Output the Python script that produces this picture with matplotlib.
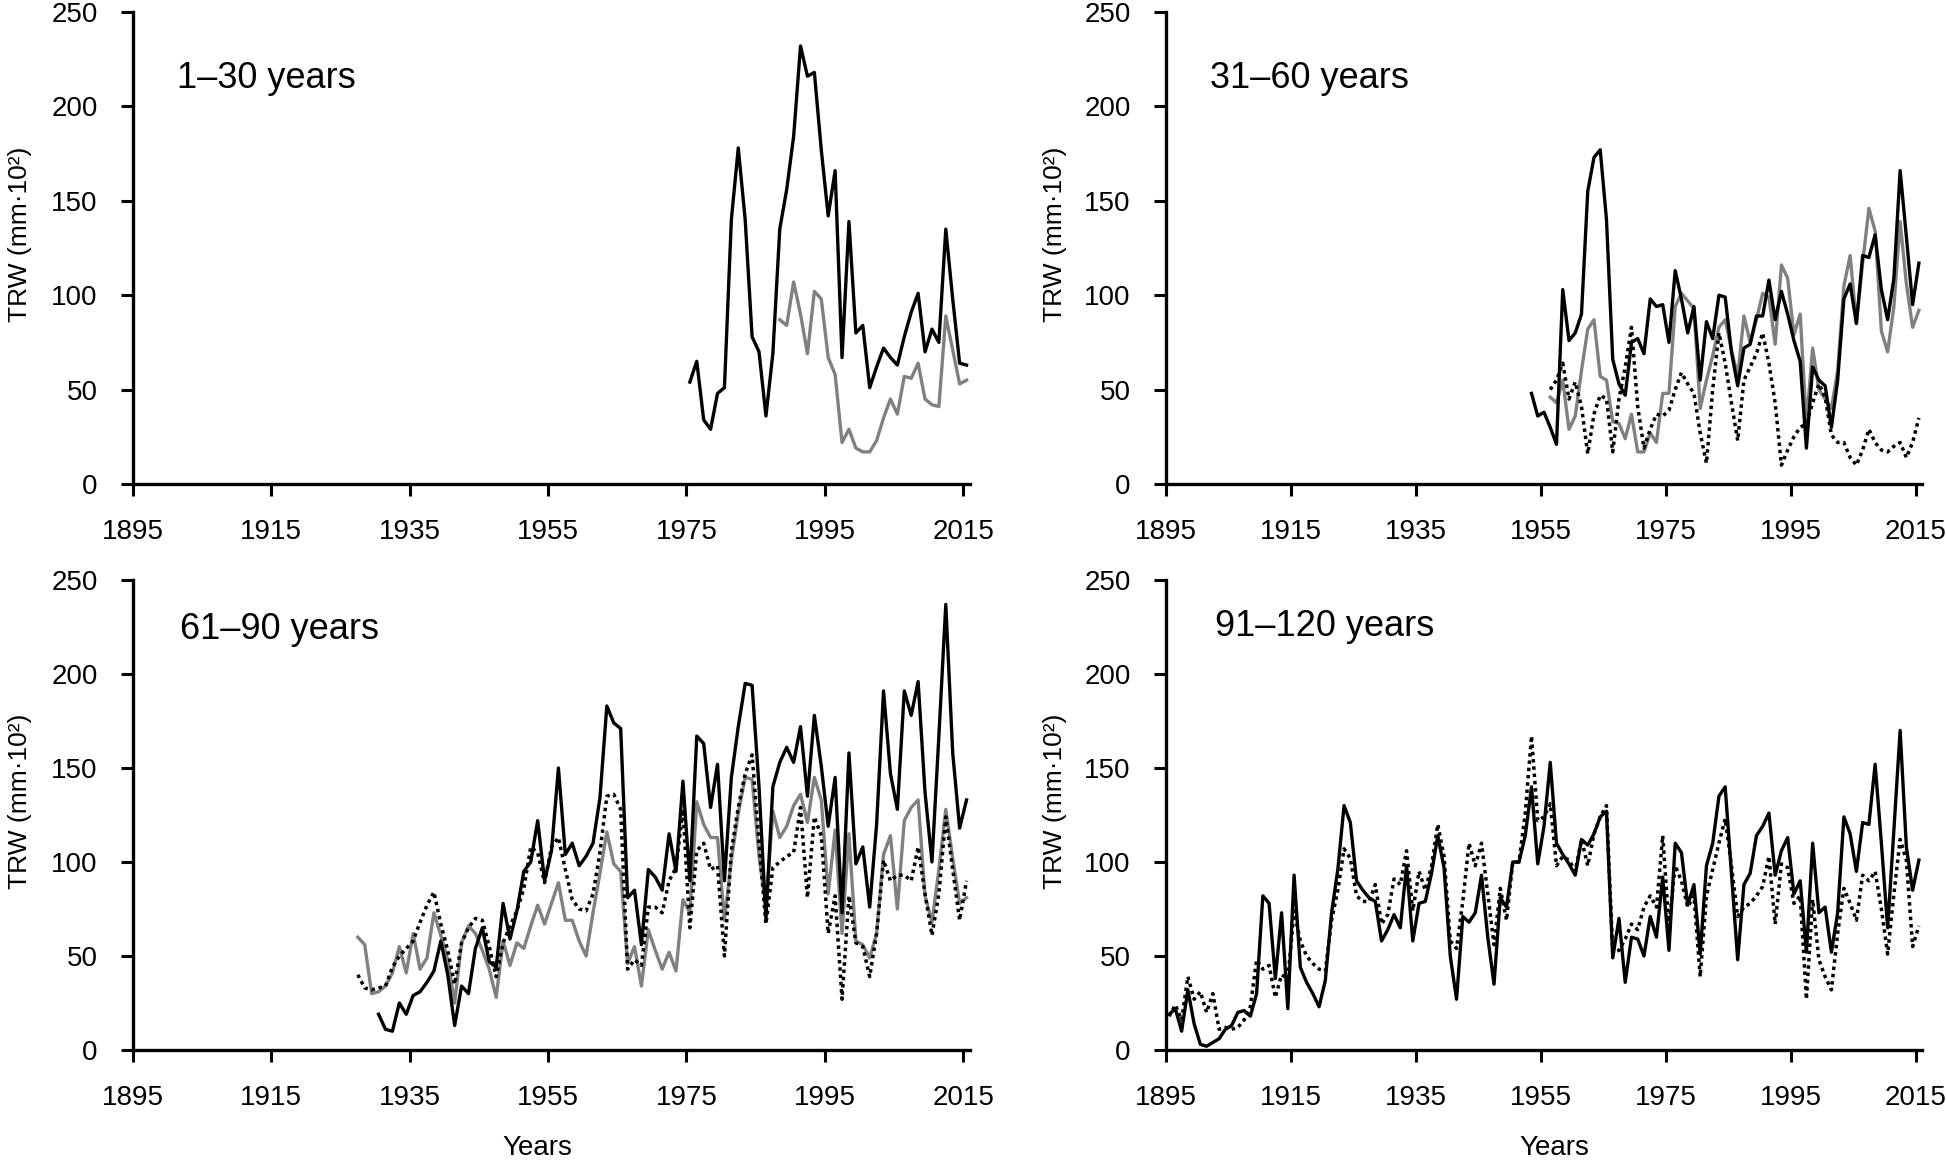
import numpy as np
import matplotlib
matplotlib.use("Agg")
import matplotlib.pyplot as plt

plt.rcParams['font.family'] = ['Liberation Sans', 'DejaVu Sans']

x_ticks = [1895, 1915, 1935, 1955, 1975, 1995, 2015]
y_ticks = [0, 50, 100, 150, 200, 250]
panel_labels = ["1–30 years", "31–60 years", "61–90 years", "91–120 years"]
y_label = "TRW (mm·10²)"
x_label = "Years"

# 1-30 years
p1_black_start = 1976
p1_black = [54, 65, 34, 29, 48, 51, 140, 178, 140, 78, 70, 36, 69, 135, 156, 184, 232, 216, 218, 177,
            142, 166, 67, 139, 80, 84, 51, 62, 72, 67, 63, 78, 91, 101, 70, 82, 75, 135, 98, 64, 63]
p1_gray_start = 1989
p1_gray = [87, 84, 107, 90, 69, 102, 98, 67, 58, 22, 29, 19, 17, 17, 23, 35, 45, 37, 57, 56,
           64, 45, 42, 41, 89, 71, 53, 55]

# 31-60 years
p2_black_start = 1954
p2_black = [48, 36, 38, 30, 21, 103, 76, 80, 90, 155, 173, 177, 140, 66, 53, 47, 75, 77, 69, 98,
            94, 95, 75, 113, 98, 80, 94, 55, 86, 77, 100, 99, 70, 52, 72, 74, 89, 89, 108, 87,
            102, 90, 76, 65, 19, 62, 55, 52, 30, 55, 98, 106, 85, 121, 120, 132, 103, 87, 109, 166,
            131, 95, 117]
p2_gray_start = 1957
p2_gray = [46, 43, 55, 29, 36, 60, 82, 87, 57, 55, 33, 32, 24, 37, 17, 17, 27, 22, 48, 48,
           94, 101, 97, 93, 40, 55, 68, 83, 87, 71, 57, 89, 75, 87, 101, 99, 74, 116, 109, 79,
           90, 32, 72, 50, 45, 40, 60, 105, 121, 85, 117, 146, 134, 81, 70, 94, 139, 106, 83, 92]
p2_dot_start = 1957
p2_dot = [50, 55, 64, 45, 54, 41, 16, 37, 47, 45, 17, 45, 62, 83, 41, 19, 29, 37, 36, 39,
          50, 59, 53, 48, 27, 11, 50, 80, 64, 43, 23, 55, 62, 69, 80, 64, 43, 10, 18, 25,
          30, 32, 43, 53, 46, 26, 22, 22, 14, 10, 18, 29, 22, 18, 17, 20, 22, 14, 22, 35]

# 61-90 years
p3_black_start = 1931
p3_black = [19, 11, 10, 25, 19, 29, 31, 36, 42, 58, 40, 13, 34, 30, 54, 65, 47, 44, 78, 59,
            74, 95, 100, 122, 90, 106, 150, 104, 110, 98, 103, 110, 134, 183, 174, 171, 81, 85, 56, 96,
            92, 85, 115, 95, 143, 90, 167, 163, 129, 152, 90, 145, 172, 195, 194, 140, 70, 140, 153, 161,
            153, 172, 135, 178, 151, 119, 145, 73, 158, 99, 108, 76, 120, 191, 147, 128, 191, 178, 196, 137,
            100, 167, 237, 158, 118, 133]
p3_gray_start = 1928
p3_gray = [60, 56, 30, 31, 34, 41, 55, 41, 62, 43, 49, 73, 61, 48, 25, 57, 66, 62, 53, 43,
           28, 58, 45, 57, 54, 66, 77, 67, 78, 89, 69, 69, 58, 50, 73, 94, 116, 99, 95, 46,
           55, 34, 64, 53, 43, 52, 42, 80, 73, 132, 120, 113, 113, 69, 101, 126, 145, 144, 103, 76,
           127, 113, 119, 130, 136, 121, 145, 133, 83, 117, 62, 115, 58, 56, 49, 62, 104, 114, 75, 122,
           129, 133, 82, 68, 96, 128, 102, 78, 81]
p3_dot_start = 1928
p3_dot = [40, 33, 32, 33, 34, 44, 50, 54, 58, 68, 77, 84, 67, 53, 35, 57, 65, 70, 69, 55,
          39, 57, 66, 74, 86, 108, 105, 89, 108, 113, 96, 80, 75, 74, 83, 105, 135, 136, 128, 43,
          48, 45, 76, 76, 73, 90, 97, 128, 65, 106, 110, 96, 98, 50, 106, 129, 147, 157, 110, 67,
          97, 100, 103, 105, 129, 81, 124, 114, 62, 82, 27, 82, 57, 55, 39, 62, 101, 90, 93, 93,
          90, 108, 83, 61, 83, 124, 96, 69, 90]

# 91-120 years
p4_black_start = 1896
p4_black = [19, 22, 10, 32, 14, 3, 2, 4, 6, 11, 13, 20, 21, 18, 30, 82, 78, 38, 73, 22,
            93, 44, 36, 30, 23, 37, 73, 96, 130, 121, 90, 85, 81, 79, 58, 64, 72, 65, 98, 58,
            78, 79, 94, 114, 97, 50, 27, 71, 68, 73, 93, 60, 35, 81, 76, 100, 100, 114, 140,
            99, 119, 153, 110, 104, 99, 93, 112, 109, 115, 124, 127, 49, 70, 36, 60, 59, 50, 71, 60,
            92, 53, 110, 105, 77, 88, 51, 98, 110, 135, 140, 94, 48, 88, 94, 114, 119, 126, 93, 106,
            113, 83, 90, 52, 110, 73, 76, 52, 73, 124, 115, 95, 121, 120, 152, 110, 65, 117, 170, 108,
            85, 101]
p4_dot_start = 1896
p4_dot = [18, 24, 16, 39, 27, 31, 20, 30, 11, 12, 11, 12, 16, 23, 48, 43, 45, 28, 40, 38,
          74, 58, 50, 46, 43, 42, 69, 85, 107, 102, 82, 79, 79, 88, 67, 72, 91, 88, 106, 74,
          95, 85, 98, 120, 103, 58, 54, 79, 110, 98, 110, 83, 56, 86, 69, 100, 100, 126, 167,
          122, 124, 131, 98, 103, 101, 95, 112, 98, 115, 124, 130, 52, 53, 59, 67, 64, 76, 82, 76,
          114, 66, 98, 90, 76, 82, 39, 82, 96, 110, 123, 98, 71, 76, 78, 82, 87, 103, 67, 99,
          97, 78, 82, 27, 80, 48, 39, 32, 62, 86, 78, 69, 93, 90, 95, 75, 51, 83, 112, 101,
          55, 66]

BLACK = dict(color="black", lw=2.4, zorder=4)
GRAY = dict(color="#808080", lw=2.4, zorder=3)
DOT = dict(color="black", lw=2.5, linestyle=(0, (1, 1.1)), zorder=3.5)


def plot_series(ax, start, values, style):
    # points sit half a year left of the year tick, as in the original
    years = start + np.arange(len(values)) - 0.5
    ax.plot(years, values, **style)


def style_axes(ax):
    ax.set_xlim(1895, 2016)
    ax.set_ylim(0, 250)
    ax.set_xticks(x_ticks)
    ax.set_yticks(y_ticks)
    for side in ("top", "right"):
        ax.spines[side].set_visible(False)
    for side in ("left", "bottom"):
        ax.spines[side].set_linewidth(2.4)
    ax.tick_params(direction="out", length=8.5, width=2.2, labelsize=20, pad=17)
    ax.spines["left"].set_bounds(0, 250)
    ax.patch.set_visible(False)


def main():
    W, H = 1946, 1162
    fig = plt.figure(figsize=(W / 100, H / 100), dpi=100)

    def box(l, r, t, b):
        return [l / W, 1 - b / H, (r - l) / W, (b - t) / H]

    ax1 = fig.add_axes(box(133, 970, 12, 484))
    ax2 = fig.add_axes(box(1166, 1922, 12, 484))
    ax3 = fig.add_axes(box(133, 970, 580, 1050))
    ax4 = fig.add_axes(box(1166, 1922, 580, 1050))
    axes = [ax1, ax2, ax3, ax4]

    plot_series(ax1, p1_gray_start, p1_gray, GRAY)
    plot_series(ax1, p1_black_start, p1_black, BLACK)

    plot_series(ax2, p2_gray_start, p2_gray, GRAY)
    plot_series(ax2, p2_dot_start, p2_dot, DOT)
    plot_series(ax2, p2_black_start, p2_black, BLACK)

    plot_series(ax3, p3_gray_start, p3_gray, GRAY)
    plot_series(ax3, p3_dot_start, p3_dot, DOT)
    plot_series(ax3, p3_black_start, p3_black, BLACK)

    plot_series(ax4, p4_dot_start, p4_dot, DOT)
    plot_series(ax4, p4_black_start, p4_black, BLACK)

    label_pos = [(0.053, 0.860), (0.058, 0.860), (0.056, 0.894), (0.065, 0.902)]
    ylab_x = [-0.121, -0.131, -0.121, -0.131]
    for i, ax in enumerate(axes):
        style_axes(ax)
        ax.text(label_pos[i][0], label_pos[i][1], panel_labels[i], transform=ax.transAxes,
                fontsize=26, ha="left", va="center")
        ax.set_ylabel(y_label, fontsize=19)
        ax.yaxis.set_label_coords(ylab_x[i], 0.53)

    ax3.set_xlabel(x_label, fontsize=20)
    ax3.xaxis.set_label_coords(0.483, -0.18)
    ax4.set_xlabel(x_label, fontsize=20)
    ax4.xaxis.set_label_coords(0.513, -0.18)

    fig.savefig("out.png", dpi=100)


if __name__ == "__main__":
    main()
